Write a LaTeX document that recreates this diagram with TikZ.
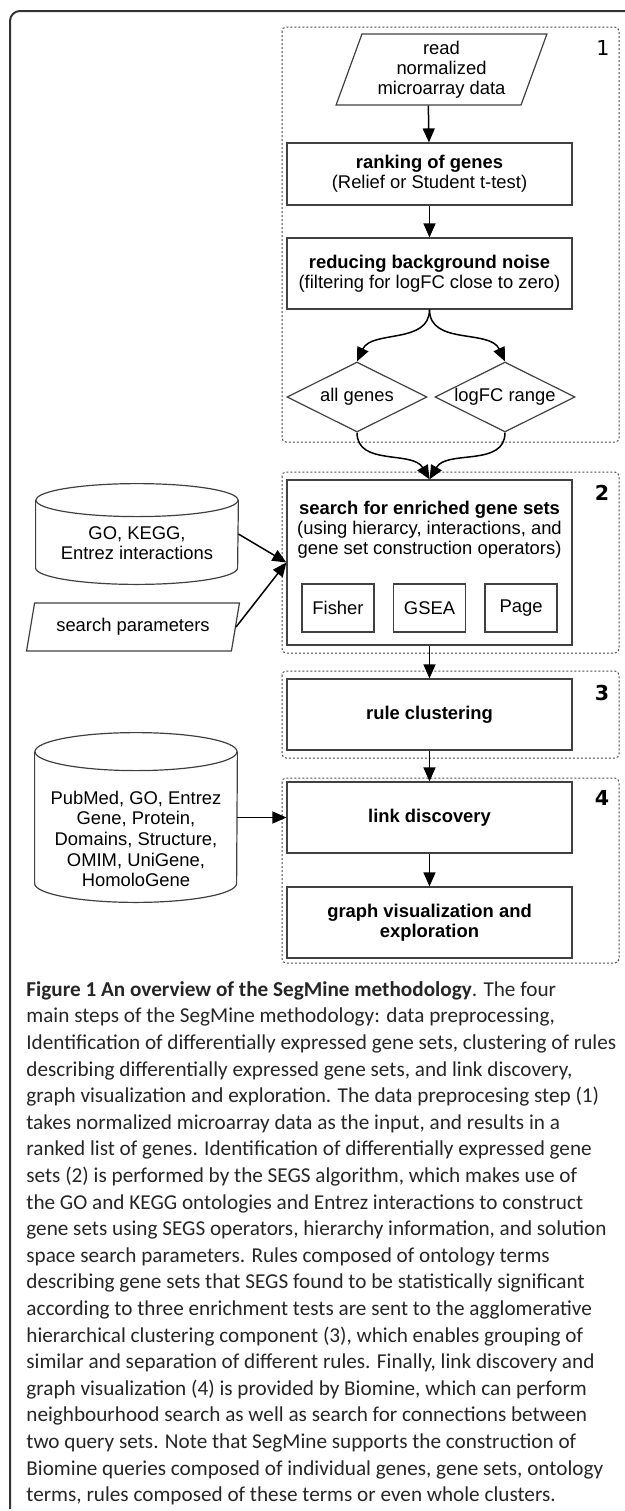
\documentclass[tikz,border=0pt]{standalone}
\usepackage{fontspec}
\setmainfont{Liberation Sans}
\newfontfamily\capfont{Carlito}
\newfontfamily\numfont{DejaVu Sans}
\usetikzlibrary{shapes.geometric,arrows.meta}

\begin{document}
\begin{tikzpicture}[x=0.5pt,y=0.5pt,
  every node/.style={font=\fontsize{9.2}{10}\selectfont},
  box/.style={draw=black!75,line width=0.6pt,minimum width=142.5pt,minimum height=35.5pt,align=center,inner sep=0pt},
  io/.style={trapezium,trapezium left angle=70,trapezium right angle=110,trapezium stretches=true,draw=black!75,line width=0.6pt,align=center,inner sep=0pt},
  test/.style={draw=black!75,line width=0.6pt,minimum width=36pt,minimum height=24pt,inner sep=0pt},
  choice/.style={diamond,aspect=2,draw=black!75,line width=0.6pt,minimum width=70pt,minimum height=35pt,inner sep=0pt},
  db/.style={minimum width=101pt,inner sep=0pt},
  dbline/.style={draw=black!75,line width=0.6pt},
  grp/.style={draw=black!70,line width=0.5pt,dash pattern=on 1pt off 1pt,rounded corners=2pt},
  arr/.style={-{Triangle[length=7pt,width=6pt]},line width=0.75pt},
  num/.style={font=\numfont\fontsize{10.3}{12}\selectfont}]
\useasboundingbox (0,0) rectangle (625,-1511) ;
\draw[black!80,line width=1pt,rounded corners=5pt] (625,-11) -- (10,-11) -- (10,-1509) ;
% the four steps
\draw[grp] (282,-27) rectangle (619,-442) ;
\draw[grp] (282,-472) rectangle (619,-653) ;
\draw[grp] (282,-671) rectangle (619,-758) ;
\draw[grp] (282,-778) rectangle (619,-963) ;
\node[num] (n1) at (603,-48) {1} ;
\node[num] (n2) at (602,-493) {\bfseries 2} ;
\node[num] (n3) at (602,-693) {\bfseries 3} ;
\node[num] (n4) at (602,-798) {\bfseries 4} ;
\node[io,minimum width=105.5pt,minimum height=35.5pt] (read) at (441.5,-69.5) {read\\normalized\\microarray data} ;
\node[box,minimum height=31pt] (rank) at (429.5,-174) {\textbf{ranking of genes}\\(Relief or Student t-test)} ;
\node[box] (noise) at (429.5,-273.5) {\textbf{reducing background noise}\\(filtering for logFC close to zero)} ;
\node[choice] (allg) at (357,-397) {all genes} ;
\node[choice] (lfc) at (505,-397) {logFC range} ;
\node[box,minimum height=82.5pt] (search) at (429.5,-562.5) {} ;
\node[align=center] (searcht) at (429.5,-530) {\textbf{search for enriched gene sets}\\(using hierarcy, interactions, and\\gene set construction operators)} ;
\node[test] (fisher) at (338,-608) {Fisher} ;
\node[test] (gsea) at (429.5,-608) {GSEA} ;
\node[test] (page) at (521,-608) {Page} ;
\node[box] (rule) at (429.5,-714.5) {\textbf{rule clustering}} ;
\node[box] (link) at (429.5,-817.5) {\textbf{link discovery}} ;
\node[box] (graph) at (429.5,-922.5) {\textbf{graph visualization and}\\\textbf{exploration}} ;
% inputs on the left
\node[db,minimum height=50pt] (db1) at (137,-534) {} ;
\draw[dbline] ([yshift=-8.25pt]db1.north west) -- ([yshift=8.25pt]db1.south west) arc[start angle=180,end angle=360,x radius=50.5pt,y radius=8.25pt] -- ([yshift=-8.25pt]db1.north east) ;
\draw[dbline] ([yshift=-8.25pt]db1.north) ellipse [x radius=50.5pt,y radius=8.25pt] ;
\node[align=center] (db1t) at (137,-543) {GO, KEGG,\\Entrez interactions} ;
\node[io,minimum width=107pt,minimum height=24pt] (params) at (133,-627) {search parameters} ;
\node[db,minimum height=84.5pt] (db2) at (136,-817.5) {} ;
\draw[dbline] ([yshift=-9.5pt]db2.north west) -- ([yshift=9.5pt]db2.south west) arc[start angle=180,end angle=360,x radius=50.5pt,y radius=9.5pt] -- ([yshift=-9.5pt]db2.north east) ;
\draw[dbline] ([yshift=-9.5pt]db2.north) ellipse [x radius=50.5pt,y radius=9.5pt] ;
\node[align=center,font=\fontsize{9.2}{10.3}\selectfont] (db2t) at (136,-839) {PubMed, GO, Entrez\\Gene, Protein,\\Domains, Structure,\\OMIM, UniGene,\\HomoloGene} ;
\draw[arr] (read.bottom side) to (rank) ;
\draw[arr] (rank) to (noise) ;
\draw[arr] (noise.south) to[out=-90,in=65] (allg.north) ;
\draw[arr] (noise.south) to[out=-90,in=115] (lfc.north) ;
\draw[arr] (allg.south) to[out=-90,in=120] (search.north) ;
\draw[arr] (lfc.south) to[out=-90,in=60] (search.north) ;
\draw[arr] (db1.east) to (search.west) ;
\draw[arr] (params.east) to (search.west) ;
\draw[arr] (search) to (rule) ;
\draw[arr] (rule) to (link) ;
\draw[arr] (db2.east) to (link.west) ;
\draw[arr] (link) to (graph) ;
% caption
\node[anchor=north west,inner sep=0pt,align=left,text=black!85,font=\capfont\fontsize{10.6}{13.3}\selectfont] (cap) at (26,-981) {\textbf{Figure 1 An overview of the SegMine methodology}. The four\\
main steps of the SegMine methodology: data preprocessing,\\
Identification of differentially expressed gene sets, clustering of rules\\
describing differentially expressed gene sets, and link discovery,\\
graph visualization and exploration. The data preprocesing step (1)\\
takes normalized microarray data as the input, and results in a\\
ranked list of genes. Identification of differentially expressed gene\\
sets (2) is performed by the SEGS algorithm, which makes use of\\
the GO and KEGG ontologies and Entrez interactions to construct\\
gene sets using SEGS operators, hierarchy information, and solution\\
space search parameters. Rules composed of ontology terms\\
describing gene sets that SEGS found to be statistically significant\\
according to three enrichment tests are sent to the agglomerative\\
hierarchical clustering component (3), which enables grouping of\\
similar and separation of different rules. Finally, link discovery and\\
graph visualization (4) is provided by Biomine, which can perform\\
neighbourhood search as well as search for connections between\\
two query sets. Note that SegMine supports the construction of\\
Biomine queries composed of individual genes, gene sets, ontology\\
terms, rules composed of these terms or even whole clusters.} ;
\end{tikzpicture}
\end{document}
